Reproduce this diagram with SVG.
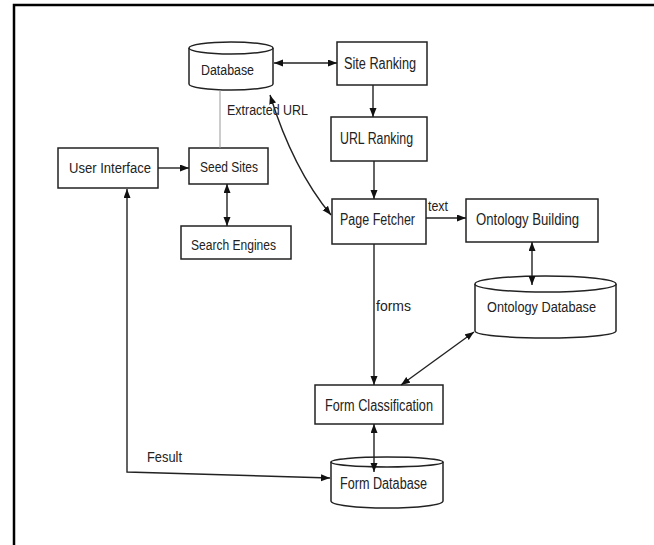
<svg xmlns="http://www.w3.org/2000/svg" width="654" height="545" viewBox="0 0 654 545">
<style>
.box{fill:#fff;stroke:#222;stroke-width:1.5}
.t{font-family:"Liberation Sans",Arial,sans-serif;font-size:16px;fill:#222}
.s{font-family:"Liberation Sans",Arial,sans-serif;font-size:14px;fill:#222}
.c{fill:none;stroke:#222;stroke-width:1.4}
</style>
<defs>
<marker id="a" markerUnits="userSpaceOnUse" markerWidth="10" markerHeight="8" refX="9" refY="3.5" orient="auto-start-reverse">
<path d="M0,0 L9,3.5 L0,7 z" fill="#111"/>
</marker>
</defs>
<g id="frame">
<path d="M14,545 L14,5 L654,5" fill="none" stroke="#000" stroke-width="2.5"/>
</g>
<g id="database">
<path class="box" d="M189,48 L189,84 A42,6 0 0 0 273,84 L273,48"/>
<ellipse class="box" cx="231" cy="48" rx="42" ry="6"/>
<text class="s" x="201" y="75" textLength="53" lengthAdjust="spacingAndGlyphs">Database</text>
</g>
<g id="site-ranking">
<rect class="box" x="337" y="42" width="90" height="43"/>
<text class="t" x="344" y="69" textLength="72" lengthAdjust="spacingAndGlyphs">Site Ranking</text>
</g>
<g id="url-ranking">
<rect class="box" x="331" y="117" width="96" height="44"/>
<text class="t" x="340" y="144" textLength="73" lengthAdjust="spacingAndGlyphs">URL Ranking</text>
</g>
<g id="user-interface">
<rect class="box" x="58" y="148" width="100" height="40"/>
<text class="s" x="69" y="173" textLength="82" lengthAdjust="spacingAndGlyphs">User Interface</text>
</g>
<g id="seed-sites">
<rect class="box" x="189" y="148" width="79" height="36"/>
<text class="s" x="200" y="172" textLength="58" lengthAdjust="spacingAndGlyphs">Seed Sites</text>
</g>
<g id="search-engines">
<rect class="box" x="181" y="226" width="110" height="33"/>
<text class="s" x="191" y="250" textLength="85" lengthAdjust="spacingAndGlyphs">Search Engines</text>
</g>
<g id="page-fetcher">
<rect class="box" x="332" y="199" width="94" height="45"/>
<text class="t" x="340" y="225" textLength="75" lengthAdjust="spacingAndGlyphs">Page Fetcher</text>
</g>
<g id="ontology-building">
<rect class="box" x="466" y="199" width="132" height="43"/>
<text class="t" x="476" y="225" textLength="103" lengthAdjust="spacingAndGlyphs">Ontology Building</text>
</g>
<g id="ontology-database">
<path class="box" d="M475,284 L475,331 A70.5,7 0 0 0 616,331 L616,284"/>
<ellipse class="box" cx="545.5" cy="284" rx="70.5" ry="8"/>
<text class="s" x="487" y="312" textLength="109" lengthAdjust="spacingAndGlyphs">Ontology Database</text>
</g>
<g id="form-classification">
<rect class="box" x="315" y="385" width="128" height="39"/>
<text class="t" x="325" y="411" textLength="108" lengthAdjust="spacingAndGlyphs">Form Classification</text>
</g>
<g id="form-database">
<path class="box" d="M331,462 L331,501 A56,7 0 0 0 443,501 L443,462"/>
<ellipse class="box" cx="387" cy="462" rx="56" ry="5"/>
<text class="t" x="340" y="489" textLength="87" lengthAdjust="spacingAndGlyphs">Form Database</text>
</g>
<g id="connectors">
<line class="c" x1="274" y1="63" x2="337" y2="63" marker-start="url(#a)" marker-end="url(#a)"/>
<line class="c" x1="373" y1="85" x2="373" y2="117" marker-end="url(#a)"/>
<line class="c" x1="374" y1="161" x2="374" y2="199" marker-end="url(#a)"/>
<line x1="220" y1="90" x2="220" y2="148" stroke="#999" stroke-width="1"/>
<line class="c" x1="158" y1="168" x2="189" y2="168" marker-end="url(#a)"/>
<line class="c" x1="227" y1="184" x2="227" y2="226" marker-start="url(#a)" marker-end="url(#a)"/>
<path class="c" d="M270,95 Q293,169 331,215" marker-start="url(#a)" marker-end="url(#a)"/>
<line class="c" x1="426" y1="218" x2="466" y2="218" marker-end="url(#a)"/>
<line class="c" x1="532" y1="242" x2="532" y2="285" marker-start="url(#a)" marker-end="url(#a)"/>
<line class="c" x1="374" y1="244" x2="374" y2="385" marker-end="url(#a)"/>
<line class="c" x1="474" y1="332" x2="401" y2="385" marker-start="url(#a)" marker-end="url(#a)"/>
<line class="c" x1="374" y1="424" x2="374" y2="472" marker-start="url(#a)" marker-end="url(#a)"/>
<path class="c" d="M330,478 L127,472 L127,189" marker-start="url(#a)" marker-end="url(#a)"/>
<text class="s" x="227" y="115" textLength="81" lengthAdjust="spacingAndGlyphs">Extracted URL</text>
<text class="s" x="428" y="211" textLength="20" lengthAdjust="spacingAndGlyphs">text</text>
<text class="s" x="376" y="311" textLength="35" lengthAdjust="spacingAndGlyphs">forms</text>
<text class="s" x="147" y="462" textLength="35" lengthAdjust="spacingAndGlyphs">Fesult</text>
</g>
</svg>
